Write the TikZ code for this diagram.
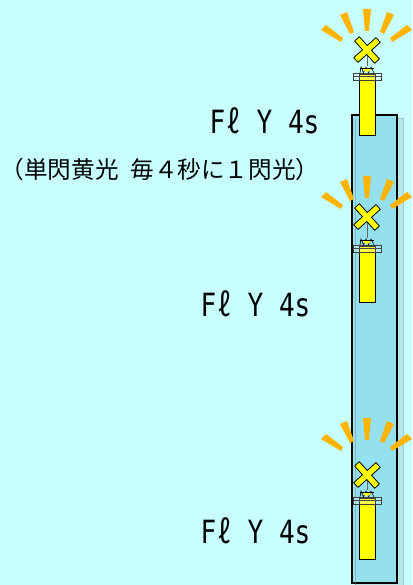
\documentclass[tikz,border=0pt]{standalone}
\usepackage{fontspec}
\newfontfamily\cjkfont{Noto Sans CJK JP}
\newfontfamily\monofont{DejaVu Sans Mono}
\usepackage{tikz}
\definecolor{seabg}{HTML}{C8FFFF}
\definecolor{polefill}{HTML}{90E0F0}
\definecolor{rayorange}{HTML}{FFB400}
\definecolor{buoyyellow}{HTML}{FFFF00}
\newcommand{\flashtext}{F\makebox[.6em]{\cjkfont ℓ} Y 4s}
\tikzstyle{flash}=[font=\monofont\fontsize{32}{32}\selectfont, xscale=.815, inner sep=0pt, text=black]
\tikzstyle{note}=[font=\cjkfont\fontsize{23.6}{24}\selectfont, inner sep=0pt, anchor=west, text=black]
\tikzstyle{ray}=[fill=rayorange, draw=none]
\tikzstyle{body}=[fill=buoyyellow, draw=black, line width=.8pt]
\tikzstyle{band}=[draw=black!75, line width=.7pt, fill=white, fill opacity=.25]

\begin{document}
\begin{tikzpicture}[x=1pt, y=-1pt]
\useasboundingbox (0,0) rectangle (412,585);
\fill [seabg] (0,0) rectangle (412,585);

\draw [polefill!70!black, fill=black!40, fill opacity=.25, draw opacity=.5, line width=1pt] (355,119) rectangle (403,590);
\draw [fill=polefill, fill opacity=.9, draw=black, line width=1.2pt] (352,115) rectangle (397,583);
\draw [black!45, opacity=.5, line width=1pt] (355,119) -- (355,585);

\foreach \n/\rayy/\crossy/\bodytop/\bodybot in {a/0/50/74/135, b/167/217/246/302, c/409/475/498/559}{
  % rays
  \fill [ray] (363,9+\rayy) -- (371,9+\rayy) -- (369,31+\rayy) -- (365,31+\rayy) -- cycle;
  \fill [ray] (340,15+\rayy) -- (347,12+\rayy) -- (354,32+\rayy) -- (350,34+\rayy) -- cycle;
  \fill [ray] (387,12+\rayy) -- (394,15+\rayy) -- (384,34+\rayy) -- (380,32+\rayy) -- cycle;
  \fill [ray] (321,30+\rayy) -- (326,25+\rayy) -- (343,38+\rayy) -- (341,42+\rayy) -- cycle;
  \fill [ray] (407,25+\rayy) -- (412,30+\rayy) -- (392,42+\rayy) -- (390,38+\rayy) -- cycle;
  % lantern
  \draw [black!60, line width=.6pt] (367,\crossy) -- (367,\bodytop-8);
  \draw [black, line width=.6pt] (360,\bodytop-1) -- (361,\bodytop-7) -- (363.5,\bodytop-1) -- (366,\bodytop-7) -- (368.5,\bodytop-1) -- (371,\bodytop-7) -- (374,\bodytop-1);
  \fill [buoyyellow] (363,\bodytop-6) arc [start angle=180, end angle=0, radius=4] -- cycle;
  \draw [black, line width=.5pt] (360,\bodytop-6) -- (374,\bodytop-6);
  % body and band
  \draw [body] (359,\bodytop) rectangle (375,\bodybot);
  \draw [band] (353,\bodytop-1) rectangle (381,\bodytop+6);
  \draw [black!70, line width=.5pt] (353,\bodytop+2.5) -- (381,\bodytop+2.5);
  % topmark
  \begin{scope}[shift={(367,\crossy)}, rotate=42]
  \draw [body, line join=round] (-3.2,-3.2) -- (-3.2,-15) -- (3.2,-15) -- (3.2,-3.2) -- (15,-3.2) -- (15,3.2) -- (3.2,3.2) -- (3.2,15) -- (-3.2,15) -- (-3.2,3.2) -- (-15,3.2) -- (-15,-3.2) -- cycle;
  \end{scope}
}

\node [flash] (flasha) at (264.5,121) {\flashtext};
\node [flash] (flashb) at (255.5,304) {\flashtext};
\node [flash] (flashc) at (255.5,531) {\flashtext};
\node [note] (noteflash) at (.5,170) {（単閃黄光\hspace{.5em}毎４秒に１閃光）};

\end{tikzpicture}
\end{document}
